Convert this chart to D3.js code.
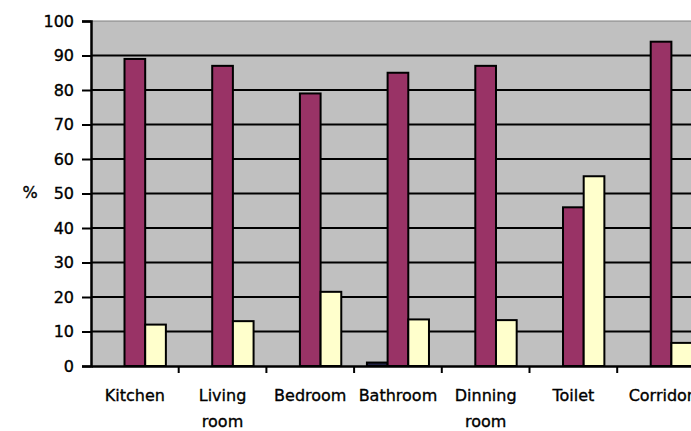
<!DOCTYPE html>
<html>
<head>
<meta charset="utf-8">
<script src="https://cdn.jsdelivr.net/npm/d3@7"></script>
<style>
  html, body { margin: 0; padding: 0; background: #fff; }
  svg { display: block; }
  text { font-family: "DejaVu Sans", sans-serif; fill: #000; stroke: #000; stroke-width: 0.35px; }
</style>
</head>
<body>
<svg id="chart" width="691" height="431"></svg>
<script>
const categories = ["Kitchen", "Living room", "Bedroom", "Bathroom", "Dinning room", "Toilet", "Corridor"];
const labelLines = [["Kitchen"], ["Living", "room"], ["Bedroom"], ["Bathroom"], ["Dinning", "room"], ["Toilet"], ["Corridor"]];
const seriesNames = ["No answer", "Yes", "No"];
const seriesNoAnswer = [0, 0, 0, 1, 0, 0, 0];
const seriesYes = [89, 87, 79, 85, 87, 46, 94];
const seriesNo = [12, 13, 21.5, 13.5, 13.3, 55, 6.7];
const yTicks = [0, 10, 20, 30, 40, 50, 60, 70, 80, 90, 100];
const seriesColors = ["#222244", "#993366", "#FFFFCC"];

const seriesValues = [seriesNoAnswer, seriesYes, seriesNo];
const svg = d3.select("#chart");

const x0 = 91, step = 87.7;
const x = d3.scaleBand().domain(categories).range([x0, x0 + step * categories.length]).padding(0);
const xi = d3.scaleBand().domain(seriesNames).range([0, x.bandwidth()]).paddingInner(0).paddingOuter(0.62);
const y = d3.scaleLinear().domain([0, 100]).range([366, 21]);

// plot background
svg.append("rect").attr("x", x0).attr("y", y(100)).attr("width", 691 - x0).attr("height", y(0) - y(100)).attr("fill", "#C0C0C0");
svg.append("line").attr("x1", x0).attr("x2", 691).attr("y1", y(100)).attr("y2", y(100)).attr("stroke", "#808080").attr("stroke-width", 1);

// gridlines
svg.append("g").selectAll("line").data(yTicks.filter(d => d > 0 && d < 100)).join("line")
  .attr("x1", x0).attr("x2", 691).attr("y1", d => y(d)).attr("y2", d => y(d))
  .attr("stroke", "#000").attr("stroke-width", 2);

// bars
const groups = svg.append("g").selectAll("g").data(categories).join("g")
  .attr("transform", d => `translate(${x(d)},0)`);
groups.selectAll("rect").data((c, i) => seriesNames.map((s, j) => ({ s, j, v: seriesValues[j][i] })).filter(d => d.v > 0)).join("rect")
  .attr("x", d => xi(d.s)).attr("width", xi.bandwidth())
  .attr("y", d => y(d.v)).attr("height", d => y(0) - y(d.v))
  .attr("fill", d => seriesColors[d.j]).attr("stroke", "#000").attr("stroke-width", 2);

// y axis
const yAxis = d3.axisLeft(y).tickValues(yTicks).tickSize(9).tickPadding(8).tickFormat(d3.format("d"));
const ga = svg.append("g").attr("transform", `translate(${x0},0)`).call(yAxis);
ga.select(".domain").attr("stroke", "#000").attr("stroke-width", 2.5);
ga.selectAll(".tick line").attr("stroke", "#000").attr("stroke-width", 2);
ga.selectAll(".tick text").attr("font-size", 16).attr("font-family", "DejaVu Sans").attr("fill", "#000");

// x axis
const xAxis = d3.axisBottom(x).tickSize(0).tickFormat("");
const gx = svg.append("g").attr("transform", `translate(0,${y(0)})`).call(xAxis);
gx.select(".domain").attr("stroke", "#000").attr("stroke-width", 2.5);
gx.selectAll(".tick").remove();
// category boundary ticks
svg.append("g").selectAll("line").data(categories.slice(1)).join("line")
  .attr("x1", d => x(d)).attr("x2", d => x(d)).attr("y1", y(0)).attr("y2", y(0) + 7)
  .attr("stroke", "#000").attr("stroke-width", 2);

// category labels
const lbl = svg.append("g").selectAll("text").data(categories).join("text")
  .attr("x", d => x(d) + x.bandwidth() / 2).attr("y", 401)
  .attr("text-anchor", "middle").attr("font-size", 16);
lbl.selectAll("tspan").data((d, i) => labelLines[i]).join("tspan")
  .attr("x", function () { return d3.select(this.parentNode).attr("x"); })
  .attr("dy", (d, k) => k === 0 ? 0 : 26).text(d => d);

// y title
svg.append("text").attr("x", 30).attr("y", 198).attr("text-anchor", "middle").attr("font-size", 16).text("%");
</script>
</body>
</html>
